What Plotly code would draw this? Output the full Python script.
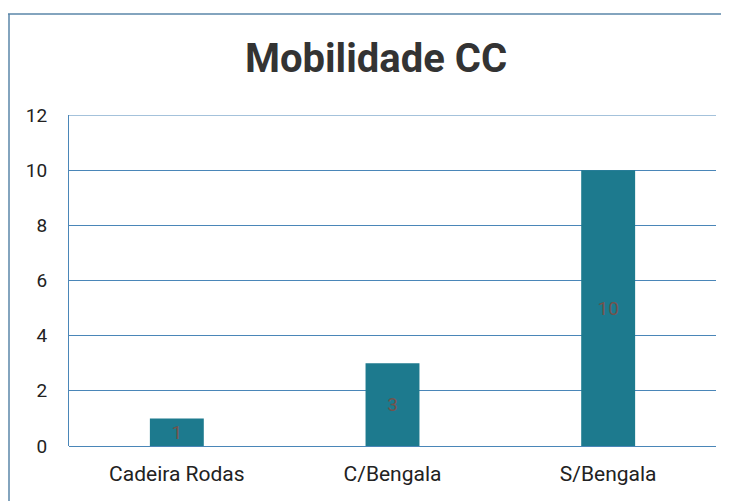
import plotly.graph_objects as go

categories = ["Cadeira Rodas", "C/Bengala", "S/Bengala"]
values = [1, 3, 10]
y_ticks = [0, 2, 4, 6, 8, 10, 12]

W, H = 729, 501
OFF = 8  # page body margin offset
L, R, T, B = 69 - OFF, 729 - (716 - OFF), 115 - OFF, 501 - (446 - OFF)
pw, ph = W - L - R, H - T - B

GRID = "#4a86b8"

fig = go.Figure(go.Bar(
    x=categories, y=values,
    marker=dict(color="#1d7a8e", line=dict(width=0)),
    text=[str(v) for v in values],
    textposition="inside", insidetextanchor="middle",
    textangle=0, constraintext="none",
    textfont=dict(family="Roboto", size=19, color="#74524c"),
    width=0.25,
))

def px(xp):
    return (xp - OFF - L) / pw

def py(yp):
    return (H - B - (yp - OFF)) / ph

fig.update_layout(
    width=W, height=H,
    margin=dict(l=L, r=R, t=T, b=B),
    paper_bgcolor="white", plot_bgcolor="white",
    title=dict(text="<b>Mobilidade CC</b>", x=px(376), xref="paper", xanchor="center",
               y=1 - (58 - OFF) / H, yanchor="middle",
               font=dict(family="Roboto", size=40, color="#333333")),
    showlegend=False,
    xaxis=dict(showgrid=False, showline=False, ticks="",
               tickfont=dict(family="Roboto", size=21, color="#222"),
               ticklabelstandoff=13,
               range=[-0.5, 2.5]),
    yaxis=dict(range=[0, 12], tickvals=y_ticks, showgrid=True,
               gridcolor=GRID, gridwidth=1.2,
               zeroline=True, zerolinecolor=GRID, zerolinewidth=1.2,
               showline=True, linecolor=GRID, linewidth=1.2, ticks="",
               tickfont=dict(family="Roboto", size=19, color="#222"),
               ticklabelstandoff=17),
    shapes=[
        dict(type="line", xref="paper", yref="y",
             x0=0, x1=1, y0=12, y1=12,
             line=dict(color=GRID, width=1.2)),
        dict(type="line", xref="paper", yref="paper",
             x0=px(8), x1=px(740), y0=py(14), y1=py(14),
             line=dict(color="#5a86a8", width=1.5)),
        dict(type="line", xref="paper", yref="paper",
             x0=px(9), x1=px(9), y0=py(14), y1=py(520),
             line=dict(color="#5a86a8", width=1.5)),
    ],
)

fig.write_html("out.html")
